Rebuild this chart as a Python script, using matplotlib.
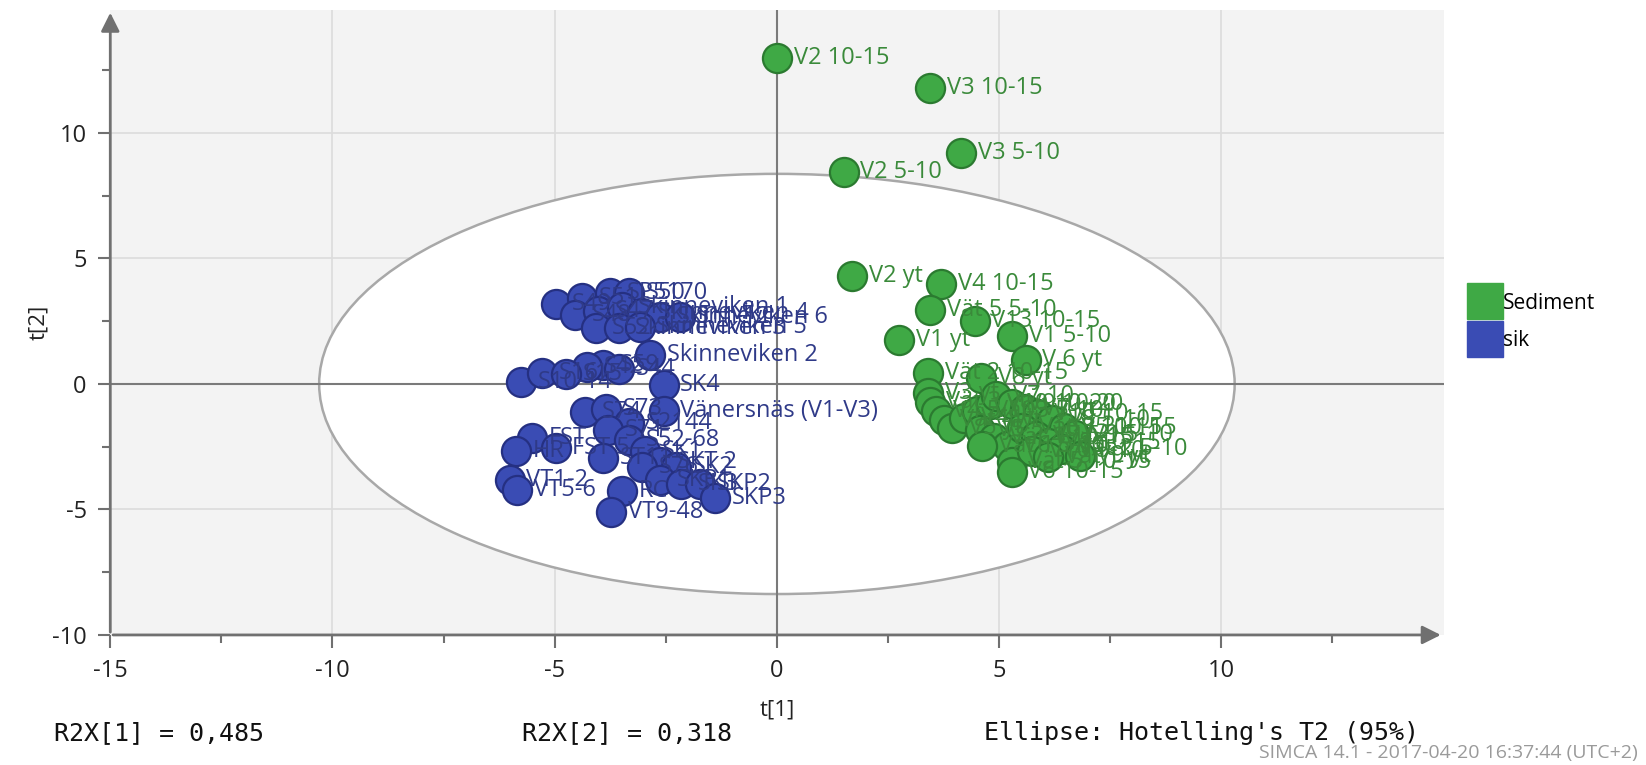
import matplotlib
matplotlib.use("Agg")
import matplotlib.pyplot as plt
from matplotlib.patches import Ellipse
from matplotlib.lines import Line2D

sed_names = ["V2 10-15", "V3 10-15", "V3 5-10", "V2 5-10", "V2 yt", "V4 10-15",
             "Vät 5 5-10", "V13 10-15", "V1 5-10", "V1 yt", "V 6 yt", "Vät 2 10-15",
             "V8 yt", "V3 yt", "Vät 3 yt", "V4 5-10", "Vät 4 yt", "V5 yt", "V4 yt",
             "Vät 3 5-10", "V10 10-20", "V7 10", "V5 5-10", "Vät 4 10-15", "V6 5-10",
             "Vät 1 5-10", "V9 10-20", "V7 yt", "V10 10-15", "V8 5-10", "V5 10-15",
             "V9 5-10", "Vät 3 10-15", "V7 5-15", "V8 10-15", "Vät 2 5-10",
             "Vät 5 10-15", "V10 5-10", "Vät 1 yt", "V9 yt", "V6 10-15"]
sed_x = [0.0, 3.45, 4.15, 1.5, 1.7, 3.7,
         3.45, 4.45, 5.3, 2.75, 5.6, 3.4,
         4.6, 3.4, 3.44, 3.58, 3.75, 3.94, 4.22,
         4.5, 4.81, 4.93, 4.58, 4.88, 5.17,
         4.62, 5.28, 5.59, 5.87, 6.18, 6.46,
         6.7, 5.52, 5.83, 6.11, 6.39,
         5.28, 5.75, 6.1, 6.82, 5.28]
sed_y = [13.0, 11.8, 9.2, 8.45, 4.3, 4.0,
         2.95, 2.5, 1.9, 1.75, 0.95, 0.45,
         0.25, -0.38, -0.71, -1.09, -1.42, -1.75, -1.34,
         -1.09, -0.79, -0.5, -1.84, -2.17, -2.46,
         -2.46, -0.79, -1.0, -1.21, -1.42, -1.75,
         -2.05, -1.75, -2.09, -2.34, -2.59,
         -3.09, -2.67, -2.92, -2.88, -3.5]

sik_names = ["S49", "S51", "SP5170", "S50", "S48", "S47", "Skinneviken 1",
             "Skinneviken 4", "Skinneviken 6", "S11-12", "S52", "Skinneviken 3",
             "Skinneviken 5", "Skinneviken 2", "S59", "S44", "S42", "S10-14", "S16",
             "S15", "SK4", "S74", "S73", "Vänersnäs (V1-V3)", "S2144", "S71",
             "FST", "HR", "FST 5", "ST11", "S52-68", "SK1", "SKT 2", "S76", "SK2",
             "SKP1", "SK3", "SKP2", "SKP3", "VT1-2", "VT5-6", "RC", "VT9-48"]
sik_x = [-4.98, -4.39, -3.75, -3.33, -4.55, -4.03, -3.49,
         -3.04, -2.62, -2.19, -4.08, -3.56,
         -3.09, -2.85, -3.92, -3.56, -4.27, -5.75, -5.28,
         -4.74, -2.55, -4.32, -3.84, -2.55, -3.33, -3.8,
         -5.5, -5.87, -4.98, -3.92, -3.33, -2.97, -2.62, -3.04, -2.26,
         -2.62, -2.15, -1.72, -1.39, -6.01, -5.85, -3.49, -3.73]
sik_y = [3.17, 3.42, 3.63, 3.63, 2.76, 2.92, 3.05,
         2.84, 2.67, 2.67, 2.21, 2.21,
         2.25, 1.17, 0.75, 0.58, 0.67, 0.08, 0.42,
         0.38, -0.04, -1.13, -1.0, -1.09, -1.54, -1.84,
         -2.17, -2.67, -2.55, -2.96, -2.25, -2.67, -3.09, -3.3, -3.3,
         -3.84, -4.0, -4.0, -4.55, -3.84, -4.22, -4.26, -5.09]

r2x = ["R2X[1] = 0,485", "R2X[2] = 0,318"]

plt.rcParams['font.family'] = ['Open Sans', 'DejaVu Sans']
plt.rcParams['axes.unicode_minus'] = False

fig = plt.figure(figsize=(16.46, 7.65), dpi=100)
ax = fig.add_axes([0.067, 0.170, 0.810, 0.817])
ax.set_facecolor('#f3f3f3')
ax.set_xlim(-15, 15)
ax.set_ylim(-10, 14.9)

# grille
for v in [-10, -5, 5, 10]:
    ax.axvline(v, color='#dcdcdc', lw=1.2, zorder=0)
for v in [-5, 5, 10]:
    ax.axhline(v, color='#dcdcdc', lw=1.2, zorder=0)
ax.axvline(0, color='#7a7a7a', lw=1.5, zorder=1)
ax.axhline(0, color='#7a7a7a', lw=1.5, zorder=1)

# ellipse Hotelling
ax.add_patch(Ellipse((0, 0), 2 * 10.3, 2 * 8.37, fill=True, facecolor='white',
                     edgecolor='#a8a8a8', lw=1.8, zorder=0.5))

# points
ax.scatter(sed_x, sed_y, s=440, c='#3fa945', edgecolors='#2b7a30', linewidths=1.6, zorder=3)
ax.scatter(sik_x, sik_y, s=440, c='#3a4cb4', edgecolors='#253082', linewidths=1.6, zorder=3)
for n, x, y in zip(sed_names, sed_x, sed_y):
    ax.annotate(n, (x, y), xytext=(12, 0), textcoords='offset points', va='center',
                fontsize=17, color='#3a8a3a', zorder=4)
for n, x, y in zip(sik_names, sik_x, sik_y):
    ax.annotate(n, (x, y), xytext=(12, 0), textcoords='offset points', va='center',
                fontsize=17, color='#2f3a88', zorder=4)

# axes en fleches
for s in ax.spines.values():
    s.set_visible(False)
ax.annotate('', xy=(0, 1.0), xytext=(0, 0), xycoords='axes fraction',
            arrowprops=dict(arrowstyle='-|>', color='#707070', lw=2, mutation_scale=28))
ax.annotate('', xy=(1.0, 0), xytext=(0, 0), xycoords='axes fraction',
            arrowprops=dict(arrowstyle='-|>', color='#707070', lw=2, mutation_scale=28))

ax.set_xticks([-15, -10, -5, 0, 5, 10])
ax.set_yticks([-10, -5, 0, 5, 10])
ax.set_xticks([-12.5, -7.5, -2.5, 2.5, 7.5, 12.5], minor=True)
ax.set_yticks([-7.5, -2.5, 2.5, 7.5, 12.5], minor=True)
ax.tick_params(which='both', color='#707070', width=1.5, labelsize=17, labelcolor='#222222')
ax.tick_params(which='major', length=9, pad=8)
ax.tick_params(which='minor', length=6)
ax.set_xlabel('t[1]', fontsize=16, color='#222222', labelpad=12)
ax.set_ylabel('t[2]', fontsize=16, color='#222222', labelpad=2)

# legende
handles = [Line2D([], [], marker='s', ls='', markersize=26, color='#3fa945'),
           Line2D([], [], marker='s', ls='', markersize=26, color='#3a4cb4')]
fig.legend(handles, ['Sediment', 'sik'], loc='upper left', bbox_to_anchor=(0.884, 0.642),
           frameon=False, fontsize=15, handlelength=1.1, handletextpad=0.3, labelspacing=0.8)

mono = ['DejaVu Sans Mono']
fig.text(0.033, 0.042, r2x[0], fontsize=18, family=mono, color='#111111', va='center')
fig.text(0.317, 0.042, r2x[1], fontsize=18, family=mono, color='#111111', va='center')
fig.text(0.598, 0.042, "Ellipse: Hotelling's T2 (95%)", fontsize=18, family=mono,
         color='#111111', va='center')
fig.text(0.995, 0.004, "SIMCA 14.1 - 2017-04-20 16:37:44 (UTC+2)", fontsize=14,
         color='#9a9a9a', ha='right', va='bottom')

fig.savefig('out.png', dpi=100)
